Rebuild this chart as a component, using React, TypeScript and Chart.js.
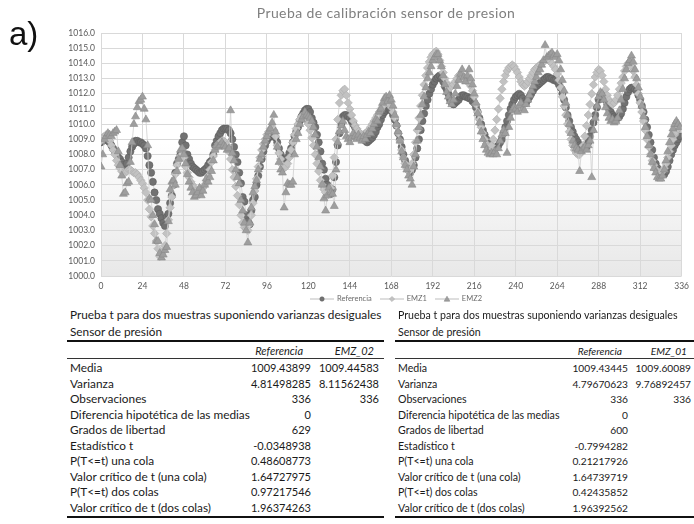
import React, { useEffect, useRef } from "react";
import { Chart, registerables } from "chart.js";

Chart.register(...registerables);

const CHART_TITLE = "Prueba de calibración sensor de presion";
const SERIES_NAMES = ["Referencia", "EMZ1", "EMZ2"];
const X_MIN = 0;
const X_MAX = 336;
const X_STEP = 24;
const Y_MIN = 1000;
const Y_MAX = 1016;
const Y_STEP = 1;

const REFERENCIA = [
  1008.8, 1008.9, 1009.0, 1009.0, 1008.9, 1008.8, 1008.6, 1008.4, 1008.2, 1008.0, 1007.8, 1007.7, 1007.5, 1007.3, 1007.2, 1007.4, 1007.8, 1008.2, 1008.5, 1008.7, 1008.9, 1008.9, 1008.8, 1008.8,
  1008.7, 1008.6, 1008.4, 1007.9, 1007.3, 1006.8, 1006.2, 1005.5, 1005.0, 1004.4, 1004.1, 1003.8, 1003.5, 1003.3, 1003.9, 1004.1, 1004.8, 1005.3, 1006.0, 1006.8, 1007.4, 1007.7, 1008.0, 1008.8,
  1009.2, 1008.6, 1008.0, 1007.7, 1007.4, 1007.2, 1007.1, 1007.0, 1006.9, 1006.8, 1006.8, 1006.9, 1007.0, 1007.1, 1007.3, 1007.5, 1007.6, 1008.0, 1008.6, 1008.9, 1009.2, 1009.4, 1009.6, 1009.7,
  1009.7, 1009.7, 1009.6, 1009.4, 1009.0, 1008.5, 1008.0, 1007.5, 1006.8, 1006.1, 1005.2, 1004.9, 1004.0, 1003.6, 1003.4, 1004.3, 1005.0, 1005.2, 1006.0, 1006.6, 1007.2, 1007.7, 1008.2, 1008.6,
  1008.9, 1009.1, 1009.2, 1009.3, 1009.3, 1009.1, 1008.8, 1008.4, 1008.0, 1007.7, 1007.5, 1007.6, 1007.8, 1008.1, 1008.4, 1008.8, 1009.2, 1009.5, 1009.8, 1010.2, 1010.5, 1010.7, 1010.9, 1011.0,
  1011.0, 1010.8, 1010.4, 1010.1, 1009.8, 1009.3, 1008.8, 1008.2, 1007.4, 1007.0, 1006.4, 1006.0, 1005.5, 1005.4, 1005.7, 1006.5, 1007.5, 1008.6, 1009.4, 1010.0, 1010.5, 1010.6, 1010.6, 1010.5,
  1010.4, 1010.2, 1010.0, 1009.8, 1009.6, 1009.4, 1009.3, 1009.1, 1009.0, 1008.9, 1008.8, 1008.9, 1009.0, 1009.1, 1009.3, 1009.5, 1009.8, 1010.0, 1010.3, 1010.6, 1010.8, 1010.9, 1011.0, 1011.0,
  1010.9, 1010.6, 1010.3, 1009.9, 1009.4, 1009.0, 1008.5, 1008.0, 1007.6, 1007.3, 1007.0, 1006.8, 1007.0, 1007.3, 1007.8, 1008.4, 1009.0, 1009.6, 1010.2, 1010.7, 1011.2, 1011.6, 1012.0, 1012.3,
  1012.6, 1012.8, 1013.0, 1013.1, 1013.2, 1013.0, 1012.8, 1012.5, 1012.3, 1012.0, 1011.6, 1011.4, 1011.3, 1011.4, 1011.5, 1011.6, 1011.8, 1011.9, 1011.9, 1011.8, 1011.8, 1011.7, 1011.7, 1011.5,
  1011.4, 1011.1, 1010.8, 1010.4, 1010.0, 1009.6, 1009.3, 1009.0, 1008.8, 1008.6, 1008.5, 1008.4, 1008.4, 1008.5, 1008.6, 1008.8, 1009.0, 1009.4, 1009.8, 1010.2, 1010.6, 1011.0, 1011.3, 1011.6,
  1011.8, 1011.9, 1012.0, 1011.9, 1011.7, 1011.5, 1011.4, 1011.6, 1011.8, 1012.0, 1012.2, 1012.4, 1012.5, 1012.6, 1012.7, 1012.8, 1012.9, 1013.0, 1013.1, 1013.1, 1013.0, 1013.0, 1012.9, 1012.9,
  1012.8, 1012.6, 1012.4, 1012.0, 1011.6, 1011.1, 1010.6, 1010.2, 1009.8, 1009.5, 1009.2, 1009.0, 1008.8, 1008.6, 1008.5, 1008.4, 1008.4, 1008.5, 1008.8, 1009.2, 1009.6, 1010.1, 1010.6, 1011.1,
  1011.6, 1011.9, 1012.0, 1011.9, 1011.6, 1011.3, 1011.0, 1010.8, 1010.6, 1010.5, 1010.4, 1010.4, 1010.5, 1010.7, 1011.0, 1011.4, 1011.8, 1012.1, 1012.3, 1012.4, 1012.4, 1012.3, 1012.2, 1011.9,
  1011.6, 1011.2, 1010.8, 1010.3, 1009.8, 1009.3, 1008.8, 1008.3, 1007.8, 1007.4, 1007.1, 1006.9, 1006.8, 1006.7, 1006.7, 1006.9, 1007.2, 1007.6, 1008.0, 1008.3, 1008.6, 1008.8, 1009.0, 1009.2,
];

const EMZ1 = [
  1008.9, 1009.1, 1009.2, 1009.3, 1009.1, 1008.9, 1008.6, 1008.3, 1008.0, 1007.6, 1007.3, 1007.1, 1006.9, 1006.8, 1006.8, 1006.9, 1007.0, 1007.0, 1006.9, 1006.8, 1006.8, 1006.7, 1006.5, 1006.3,
  1006.1, 1005.8, 1005.5, 1005.0, 1004.4, 1003.9, 1003.3, 1002.8, 1002.3, 1001.8, 1001.3, 1001.4, 1001.6, 1002.0, 1002.8, 1003.7, 1004.5, 1005.2, 1006.0, 1006.7, 1007.3, 1007.6, 1007.9, 1008.3,
  1007.8, 1007.2, 1006.8, 1006.5, 1006.2, 1006.0, 1005.8, 1005.6, 1005.5, 1005.4, 1005.6, 1005.8, 1006.0, 1006.3, 1006.6, 1007.0, 1007.5, 1007.9, 1008.3, 1008.5, 1008.7, 1008.8, 1008.9, 1008.9,
  1008.8, 1008.6, 1008.2, 1007.7, 1007.0, 1006.5, 1005.9, 1005.3, 1004.7, 1004.0, 1003.5, 1003.2, 1003.1, 1003.0, 1003.4, 1004.0, 1004.8, 1005.6, 1006.4, 1007.2, 1007.8, 1008.3, 1008.7, 1009.0,
  1009.3, 1009.5, 1009.7, 1009.8, 1009.6, 1009.2, 1008.6, 1008.1, 1007.7, 1007.3, 1007.1, 1007.2, 1007.4, 1007.8, 1008.3, 1008.8, 1009.3, 1009.7, 1010.0, 1010.3, 1010.5, 1010.5, 1010.4, 1010.2,
  1010.0, 1009.6, 1009.1, 1008.6, 1008.0, 1007.4, 1006.9, 1006.3, 1006.0, 1005.7, 1005.5, 1005.3, 1005.4, 1005.8, 1006.6, 1007.8, 1009.0, 1010.3, 1011.4, 1011.9, 1012.2, 1012.3, 1011.9, 1011.4,
  1011.0, 1010.6, 1010.2, 1009.9, 1009.7, 1009.5, 1009.4, 1009.3, 1009.3, 1009.4, 1009.5, 1009.6, 1009.8, 1010.0, 1010.2, 1010.4, 1010.6, 1010.8, 1011.0, 1011.2, 1011.3, 1011.4, 1011.4, 1011.3,
  1011.1, 1010.8, 1010.4, 1009.9, 1009.4, 1008.9, 1008.3, 1007.8, 1007.4, 1007.1, 1006.9, 1007.0, 1007.4, 1008.0, 1008.8, 1009.6, 1010.4, 1011.2, 1011.9, 1012.6, 1013.2, 1013.7, 1014.1, 1014.4,
  1014.6, 1014.7, 1014.8, 1014.6, 1014.2, 1013.8, 1013.4, 1013.0, 1012.7, 1012.5, 1012.4, 1012.5, 1012.6, 1012.8, 1013.0, 1013.2, 1013.3, 1013.2, 1013.0, 1012.9, 1012.8, 1012.7, 1012.5, 1012.2,
  1011.8, 1011.3, 1010.8, 1010.3, 1009.8, 1009.4, 1009.0, 1008.7, 1008.5, 1008.4, 1008.6, 1009.0, 1009.6, 1010.3, 1011.0, 1011.7, 1012.3, 1012.8, 1013.2, 1013.5, 1013.7, 1013.8, 1013.9, 1013.8,
  1013.6, 1013.4, 1013.1, 1012.8, 1012.6, 1012.5, 1012.6, 1012.8, 1013.0, 1013.2, 1013.4, 1013.6, 1013.7, 1013.8, 1013.9, 1014.0, 1014.1, 1014.2, 1014.3, 1014.2, 1014.1, 1014.0, 1013.8, 1013.6,
  1013.3, 1012.9, 1012.4, 1011.8, 1011.2, 1010.6, 1010.0, 1009.5, 1009.0, 1008.6, 1008.3, 1008.1, 1008.0, 1008.0, 1008.2, 1008.6, 1009.2, 1009.9, 1010.6, 1011.3, 1012.0, 1012.6, 1013.1, 1013.4,
  1013.6, 1013.5, 1013.2, 1012.8, 1012.3, 1011.9, 1011.6, 1011.4, 1011.3, 1011.4, 1011.6, 1011.9, 1012.3, 1012.7, 1013.1, 1013.5, 1013.8, 1014.0, 1014.0, 1013.8, 1013.5, 1013.1, 1012.6, 1012.0,
  1011.4, 1010.8, 1010.2, 1009.6, 1009.0, 1008.5, 1008.0, 1007.6, 1007.3, 1007.0, 1006.9, 1006.8, 1006.8, 1006.9, 1007.1, 1007.4, 1007.8, 1008.2, 1008.6, 1009.0, 1009.3, 1009.5, 1009.7, 1009.8,
];

const EMZ2 = [
  1007.2, 1008.0, 1009.0, 1009.2, 1009.4, 1009.3, 1009.2, 1009.4, 1009.5, 1009.6, 1008.2, 1007.3, 1006.6, 1005.4, 1005.5, 1006.1, 1006.2, 1007.5, 1008.8, 1010.0, 1010.5, 1011.1, 1011.5, 1011.6,
  1011.8, 1011.0, 1010.3, 1008.6, 1005.1, 1005.0, 1004.0, 1003.4, 1002.3, 1002.3, 1001.5, 1001.2, 1001.4, 1001.7, 1001.9, 1003.6, 1005.7, 1006.2, 1006.3, 1006.0, 1006.9, 1007.7, 1008.3, 1008.4,
  1008.0, 1007.4, 1006.7, 1006.2, 1005.8, 1005.5, 1005.2, 1005.3, 1005.5, 1005.8, 1005.3, 1005.6, 1006.0, 1006.4, 1006.2, 1006.5, 1006.9, 1007.6, 1008.3, 1008.6, 1008.5, 1008.6, 1008.8, 1008.6,
  1008.5, 1008.3, 1008.4, 1010.9, 1008.1, 1007.6, 1007.0, 1006.5, 1006.1, 1005.0, 1004.3, 1003.5, 1003.0, 1002.2, 1003.5, 1004.5, 1005.5, 1005.9, 1006.3, 1007.0, 1007.7, 1008.0, 1008.5, 1008.9,
  1009.2, 1009.5, 1009.7, 1010.1, 1010.6, 1009.5, 1008.5, 1007.5, 1007.0, 1006.8, 1004.5, 1005.5, 1006.1, 1006.0, 1006.0, 1006.2, 1008.0, 1009.0, 1009.4, 1010.0, 1010.3, 1010.5, 1010.8, 1010.6,
  1010.5, 1010.4, 1010.2, 1009.8, 1009.3, 1008.5, 1007.8, 1007.2, 1006.0, 1005.1, 1004.3, 1005.3, 1005.8, 1005.5, 1005.4, 1004.6, 1007.0, 1008.8, 1009.5, 1009.9, 1010.2, 1009.6, 1009.2, 1009.0,
  1008.8, 1009.1, 1009.4, 1009.2, 1009.0, 1009.3, 1009.1, 1008.9, 1009.2, 1009.0, 1009.3, 1009.5, 1009.4, 1009.7, 1010.0, 1010.3, 1010.2, 1010.8, 1011.0, 1011.4, 1011.7, 1011.8, 1011.5, 1011.9,
  1011.6, 1011.2, 1010.6, 1010.0, 1009.5, 1008.9, 1008.2, 1007.8, 1007.3, 1007.0, 1006.6, 1006.4, 1006.0, 1007.2, 1008.0, 1008.9, 1009.8, 1010.6, 1011.3, 1011.8, 1012.4, 1013.0, 1013.4, 1013.8,
  1014.2, 1014.4, 1014.6, 1014.6, 1014.2, 1013.8, 1013.2, 1012.6, 1012.1, 1011.8, 1011.5, 1011.3, 1011.6, 1012.0, 1012.5, 1012.9, 1013.3, 1013.6, 1013.1, 1012.8, 1013.2, 1013.6, 1013.0, 1012.6,
  1012.0, 1011.4, 1010.7, 1010.1, 1009.5, 1009.0, 1008.6, 1008.3, 1008.1, 1008.0, 1008.1, 1008.0, 1008.2, 1008.0, 1008.4, 1008.9, 1009.3, 1009.6, 1009.4, 1008.1, 1009.8, 1010.4, 1010.9, 1011.1,
  1011.0, 1010.8, 1011.2, 1011.4, 1011.0, 1010.9, 1011.3, 1011.6, 1011.9, 1012.2, 1012.5, 1012.8, 1013.1, 1013.4, 1013.6, 1013.9, 1014.2, 1015.2, 1014.4, 1014.5, 1014.6, 1014.7, 1014.5, 1014.4,
  1014.6, 1014.2, 1013.6, 1012.9, 1012.2, 1011.4, 1010.6, 1010.0, 1009.4, 1008.9, 1008.6, 1008.4, 1008.3, 1006.9, 1008.2, 1008.4, 1008.5, 1008.3, 1008.6, 1008.9, 1006.5, 1009.6, 1010.4, 1011.2,
  1011.8, 1012.1, 1012.0, 1011.6, 1011.1, 1010.7, 1010.4, 1010.2, 1010.3, 1010.1, 1010.2, 1010.4, 1010.9, 1011.6, 1012.3, 1013.0, 1013.6, 1014.0, 1014.2, 1014.5, 1014.1, 1013.6, 1013.0, 1012.4,
  1011.8, 1011.2, 1010.5, 1009.8, 1009.2, 1008.6, 1008.0, 1007.5, 1007.1, 1006.8, 1006.5, 1006.4, 1006.4, 1006.6, 1007.0, 1007.6, 1008.2, 1008.8, 1009.3, 1009.7, 1010.0, 1010.2, 1010.0, 1009.8,
];

const TABLE_TITLE = "Prueba t para dos muestras suponiendo varianzas desiguales";
const TABLE_SUBTITLE = "Sensor de presión";
const ROW_LABELS = [
  "Media",
  "Varianza",
  "Observaciones",
  "Diferencia hipotética de las medias",
  "Grados de libertad",
  "Estadístico t",
  "P(T<=t) una cola",
  "Valor crítico de t (una cola)",
  "P(T<=t) dos colas",
  "Valor crítico de t (dos colas)",
];
const LEFT_HEADERS = ["Referencia", "EMZ_02"];
const LEFT_COL1 = ["1009.43899", "4.81498285", "336", "0", "629", "-0.0348938", "0.48608773", "1.64727975", "0.97217546", "1.96374263"];
const LEFT_COL2 = ["1009.44583", "8.11562438", "336", "", "", "", "", "", "", ""];
const RIGHT_HEADERS = ["Referencia", "EMZ_01"];
const RIGHT_COL1 = ["1009.43445", "4.79670623", "336", "0", "600", "-0.7994282", "0.21217926", "1.64739719", "0.42435852", "1.96392562"];
const RIGHT_COL2 = ["1009.60089", "9.76892457", "336", "", "", "", "", "", "", ""];

const STYLES = [
  { style: "circle", radius: 3.6, fill: "#727272", border: "#5e5e5e", order: 2 },
  { style: "rectRot", radius: 4.2, fill: "#c2c2c2", border: "#adadad", order: 1 },
  { style: "triangle", radius: 4.6, fill: "#9e9e9e", border: "#8a8a8a", order: 0 },
];

const plotBg = {
  id: "plotBg",
  beforeDraw(chart: any) {
    const { ctx, chartArea } = chart;
    if (!chartArea) return;
    const g = ctx.createLinearGradient(0, chartArea.top, 0, chartArea.bottom);
    g.addColorStop(0, "#ffffff");
    g.addColorStop(0.45, "#ffffff");
    g.addColorStop(1, "#e8e8e8");
    ctx.save();
    ctx.fillStyle = g;
    ctx.fillRect(chartArea.left, chartArea.top, chartArea.right - chartArea.left, chartArea.bottom - chartArea.top);
    ctx.restore();
  },
};

function LegendMarker({ kind, fill, border }: { kind: number; fill: string; border: string }) {
  let marker: any = null;
  if (kind === 0) marker = <circle cx={12} cy={4} r={2.2} fill={fill} stroke={border} strokeWidth={0.6} />;
  if (kind === 1) marker = <polygon points="12,1.4 14.6,4 12,6.6 9.4,4" fill={fill} stroke={border} strokeWidth={0.6} />;
  if (kind === 2) marker = <polygon points="12,1.2 14.8,6.2 9.2,6.2" fill={fill} stroke={border} strokeWidth={0.6} />;
  return (
    <svg width={24} height={8} style={{ display: "block" }}>
      <line x1={0} y1={4} x2={24} y2={4} stroke="#bdbdbd" strokeWidth={1} />
      {marker}
    </svg>
  );
}

function StatTable(props: {
  left: number;
  right: number;
  c1Right: number;
  c2Right: number;
  h1Right: number;
  h2Right: number;
  textSize: number;
  numSize: number;
  headers: string[];
  col1: string[];
  col2: string[];
}) {
  const { left, right, c1Right, c2Right, h1Right, h2Right, textSize, numSize, headers, col1, col2 } = props;
  const base = { fontFamily: "Lato, 'Open Sans', sans-serif", color: "#1a1a1a", lineHeight: "14px", whiteSpace: "nowrap" as const };
  const rowTop0 = 361;
  const rowStep = 15.5;
  const rAlign = (x: number, top: number, text: string, size: number, extra: any = {}) => (
    <div style={{ position: "absolute", left: x - 160, width: 160, top, textAlign: "right", ...base, fontSize: size, ...extra }}>{text}</div>
  );
  return (
    <>
      <div style={{ position: "absolute", left, top: 308, ...base, fontSize: textSize }}>{TABLE_TITLE}</div>
      <div style={{ position: "absolute", left, top: 325, ...base, fontSize: textSize }}>{TABLE_SUBTITLE}</div>
      <div style={{ position: "absolute", left: left - 3, width: right - left + 3, top: 340, height: 2, background: "#111" }} />
      {rAlign(h1Right, 344, headers[0], numSize, { fontStyle: "italic" })}
      {rAlign(h2Right, 344, headers[1], numSize, { fontStyle: "italic" })}
      <div style={{ position: "absolute", left: left - 3, width: right - left + 3, top: 358, height: 1, background: "#333" }} />
      {ROW_LABELS.map((lab, i) => (
        <div key={"l" + i} style={{ position: "absolute", left, top: rowTop0 + i * rowStep, ...base, fontSize: textSize }}>{lab}</div>
      ))}
      {col1.map((v, i) => <React.Fragment key={"a" + i}>{rAlign(c1Right, rowTop0 + i * rowStep, v, numSize)}</React.Fragment>)}
      {col2.map((v, i) => <React.Fragment key={"b" + i}>{rAlign(c2Right, rowTop0 + i * rowStep, v, numSize)}</React.Fragment>)}
      <div style={{ position: "absolute", left: left - 3, width: right - left + 3, top: 516, height: 2, background: "#111" }} />
    </>
  );
}

export default function App() {
  const canvasRef = useRef<HTMLCanvasElement | null>(null);

  useEffect(() => {
    const canvas = canvasRef.current;
    if (!canvas) return;
    const seriesData = [REFERENCIA, EMZ1, EMZ2];
    const datasets = seriesData.map((arr, k) => ({
      label: SERIES_NAMES[k],
      data: arr.map((y, i) => ({ x: i, y })),
      order: STYLES[k].order,
      showLine: true,
      borderColor: "#cfcfcf",
      borderWidth: 0.8,
      pointStyle: STYLES[k].style as any,
      pointRadius: STYLES[k].radius,
      pointBackgroundColor: STYLES[k].fill,
      pointBorderColor: STYLES[k].border,
      pointBorderWidth: 0.6,
      fill: false,
      tension: 0,
    }));
    const tickFont = { family: "Lato, 'Open Sans', sans-serif", size: 8.5 };
    const chart = new Chart(canvas, {
      type: "scatter",
      data: { datasets },
      plugins: [plotBg],
      options: {
        animation: false,
        responsive: false,
        maintainAspectRatio: false,
        layout: { padding: { top: 33, left: 0, right: 7, bottom: 0 } },
        plugins: {
          legend: { display: false },
          title: { display: false },
          tooltip: { enabled: false },
        },
        scales: {
          x: {
            type: "linear",
            min: X_MIN,
            max: X_MAX,
            ticks: { stepSize: X_STEP, color: "#595959", font: tickFont, padding: 5, maxRotation: 0, autoSkip: false },
            grid: { color: "#d9d9d9", drawTicks: false, lineWidth: 1 },
            border: { display: false },
            afterFit: (s: any) => { s.height = 19; },
          },
          y: {
            min: Y_MIN,
            max: Y_MAX,
            ticks: {
              stepSize: Y_STEP,
              color: "#595959",
              font: tickFont,
              padding: 6,
              callback: (v: any) => Number(v).toFixed(1),
            },
            grid: { color: "#d9d9d9", drawTicks: false, lineWidth: 1 },
            border: { display: false },
            afterFit: (s: any) => { s.width = 101; },
          },
        },
      } as any,
    });
    return () => chart.destroy();
  }, []);

  return (
    <div style={{ position: "absolute", left: 0, top: 0, width: 694, height: 524, background: "#ffffff", overflow: "hidden" }}>
      <canvas ref={canvasRef} width={694} height={295} style={{ position: "absolute", left: 0, top: 0, width: 694, height: 295 }} />
      <div style={{ position: "absolute", left: 9, top: 16, fontFamily: "'Liberation Sans', Arial, sans-serif", fontSize: 33, color: "#111", lineHeight: "36px" }}>a)</div>
      <div style={{ position: "absolute", left: 186, width: 400, top: 4, textAlign: "center", fontFamily: "Lato, 'Open Sans', sans-serif", fontSize: 14, color: "#7f7f7f", lineHeight: "17px", letterSpacing: 0.4 }}>{CHART_TITLE}</div>
      <div style={{ position: "absolute", left: 310, top: 294, display: "flex", alignItems: "center", gap: 2, fontFamily: "Lato, 'Open Sans', sans-serif", fontSize: 7.5, color: "#6a6a6a", lineHeight: "9px" }}>
        {SERIES_NAMES.map((n, k) => (
          <div key={n} style={{ display: "flex", alignItems: "center", gap: 3, marginRight: 6 }}>
            <LegendMarker kind={k} fill={STYLES[k].fill} border={STYLES[k].border} />
            <span>{n}</span>
          </div>
        ))}
      </div>
      <StatTable left={70} right={384} c1Right={311} c2Right={379} h1Right={303} h2Right={374} textSize={11.8} numSize={11} headers={LEFT_HEADERS} col1={LEFT_COL1} col2={LEFT_COL2} />
      <StatTable left={398} right={694} c1Right={628} c2Right={691} h1Right={622} h2Right={687} textSize={10.6} numSize={10.2} headers={RIGHT_HEADERS} col1={RIGHT_COL1} col2={RIGHT_COL2} />
    </div>
  );
}
